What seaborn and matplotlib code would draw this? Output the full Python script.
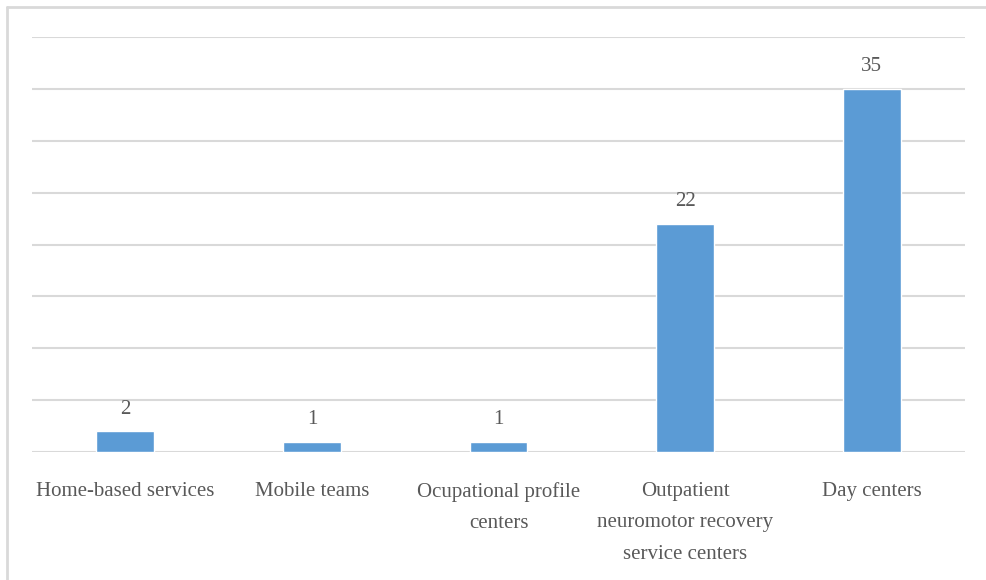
import matplotlib
matplotlib.use("Agg")
import matplotlib.pyplot as plt
from matplotlib.lines import Line2D
import seaborn as sns
import pandas as pd

# Datos del gráfico
categories = ["Home-based services", "Mobile teams", "Ocupational profile\ncenters",
              "Outpatient\nneuromotor recovery\nservice centers", "Day centers"]
values = [2, 1, 1, 22, 35]

df = pd.DataFrame({"category": categories, "value": values})

sns.set_theme(style="white")
plt.rcParams["font.family"] = ["Liberation Serif", "DejaVu Serif"]

text_color = "#595959"
grid_color = "#D9D9D9"

fig = plt.figure(figsize=(9.87, 5.80), dpi=100)
ax = fig.add_axes([32 / 987, 128 / 580, 933 / 987, 415 / 580])

sns.barplot(data=df, x="category", y="value", color="#5B9BD5", width=0.31,
            saturation=1, ax=ax, zorder=3)

ax.set_ylim(0, 40)
ax.set_yticks(range(0, 41, 5))
ax.yaxis.grid(True, color=grid_color, linewidth=1.5, zorder=0)
ax.set_axisbelow(True)
ax.tick_params(axis="y", left=False, labelleft=False)
ax.tick_params(axis="x", bottom=False, pad=15.5, labelsize=15, labelcolor=text_color)
for lbl in ax.get_xticklabels():
    lbl.set_linespacing(1.9)
ax.set_xlabel("")
ax.set_ylabel("")
for s in ax.spines.values():
    s.set_visible(False)

# Etiquetas de valores
for container in ax.containers:
    ax.bar_label(container, padding=9, fontsize=15, color=text_color)

# Borde exterior (solo arriba e izquierda visibles)
x0, y0 = 7 / 987, 1 - 7 / 580
fig.lines.append(Line2D([x0, x0], [0, y0], transform=fig.transFigure,
                        color=grid_color, linewidth=2))
fig.lines.append(Line2D([x0, 1], [y0, y0], transform=fig.transFigure,
                        color=grid_color, linewidth=2))

fig.savefig("out.png", dpi=100)
